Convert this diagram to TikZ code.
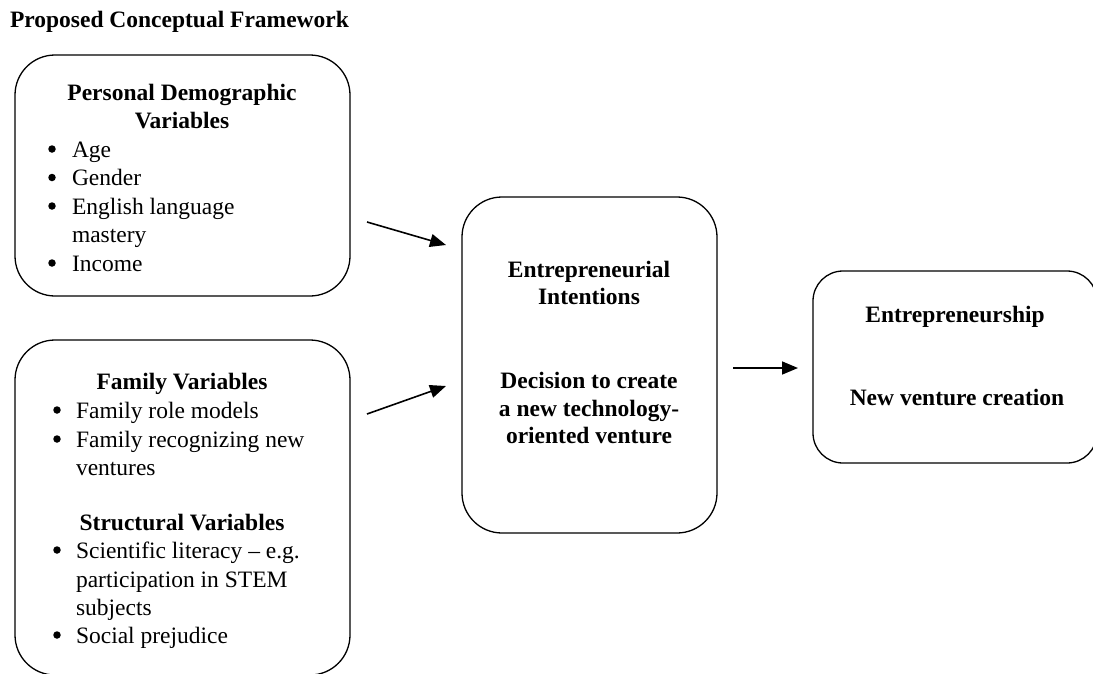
\documentclass[tikz,border=0pt]{standalone}
\usepackage{fontspec}
\setmainfont{Liberation Serif}
\usetikzlibrary{arrows.meta}
\tikzset{
  box/.style={draw=black, line width=1.3pt, rounded corners=40pt, inner sep=0pt, outer sep=0pt},
  txt/.style={inner sep=0pt, outer sep=0pt, font=\fontsize{23.5}{28.5}\selectfont},
  hd/.style={txt, font=\fontsize{23.5}{28.5}\selectfont\bfseries, anchor=base},
  itm/.style={txt, anchor=base west},
  bul/.style={circle, fill=black, inner sep=0pt, minimum size=7.5pt, yshift=8pt},
  conn/.style={line width=1.6pt, -{Triangle[length=16pt,width=13pt]}}
}
\begin{document}
\begin{tikzpicture}[x=1pt,y=-1pt]
\useasboundingbox (0,0) rectangle (1093,673);
\clip (0,0) rectangle (1093,673);
% title
\node[txt, font=\fontsize{23.5}{28.5}\selectfont\bfseries, anchor=base west] (title) at (10,27) {Proposed Conceptual Framework};
% boxes
\node[box, minimum width=335pt, minimum height=241pt] (b1) at (182.5,175.5) {};
\node[box, minimum width=335pt, minimum height=335pt] (b2) at (182.5,507.5) {};
\node[box, minimum width=255pt, minimum height=336pt] (b3) at (589.5,365) {};
\node[box, rounded corners=30pt, minimum width=284pt, minimum height=192pt] (b4) at (955,367) {};
% box 1 text
\node[hd] (h1a) at (182,100) {Personal Demographic};
\node[hd] (h1b) at (182,128.5) {Variables};
\node[bul] (p1) at (52,157) {};
\node[itm] (i1) at (72,157) {Age};
\node[bul] (p2) at (52,185.5) {};
\node[itm] (i2) at (72,185.5) {Gender};
\node[bul] (p3) at (52,214) {};
\node[itm] (i3) at (72,214) {English language};
\node[itm] (i3b) at (72,242.5) {mastery};
\node[bul] (p4) at (52,271) {};
\node[itm] (i4) at (72,271) {Income};
% box 2 text
\node[hd] (h2a) at (182,389) {Family Variables};
\node[bul] (q1) at (57,418) {};
\node[itm] (j1) at (76,418) {Family role models};
\node[bul] (q2) at (57,447) {};
\node[itm] (j2) at (76,447) {Family recognizing new};
\node[itm] (j2b) at (76,475) {ventures};
\node[hd] (h2b) at (182,530) {Structural Variables};
\node[bul] (q3) at (57,558) {};
\node[itm] (j3) at (76,558) {Scientific literacy – e.g.};
\node[itm] (j3b) at (76,587) {participation in STEM};
\node[itm] (j3c) at (76,615) {subjects};
\node[bul] (q4) at (57,643) {};
\node[itm] (j4) at (76,643) {Social prejudice};
% box 3 text
\node[hd] (h3a) at (589,277) {Entrepreneurial};
\node[hd] (h3b) at (589,304) {Intentions};
\node[hd] (h3c) at (589,388) {Decision to create};
\node[hd] (h3d) at (589,416) {a new technology-};
\node[hd] (h3e) at (589,443) {oriented venture};
% box 4 text
\node[hd] (h4a) at (955,322) {Entrepreneurship};
\node[hd] (h4b) at (957,405) {New venture creation};
% connectors
\coordinate (a1s) at (367,222);
\coordinate (a1e) at (446,245);
\coordinate (a2s) at (367,414);
\coordinate (a2e) at (446,386);
\coordinate (a3s) at (733,368);
\coordinate (a3e) at (798,368);
\draw[conn] (a1s) -- (a1e);
\draw[conn] (a2s) -- (a2e);
\draw[conn] (a3s) -- (a3e);
\end{tikzpicture}
\end{document}
